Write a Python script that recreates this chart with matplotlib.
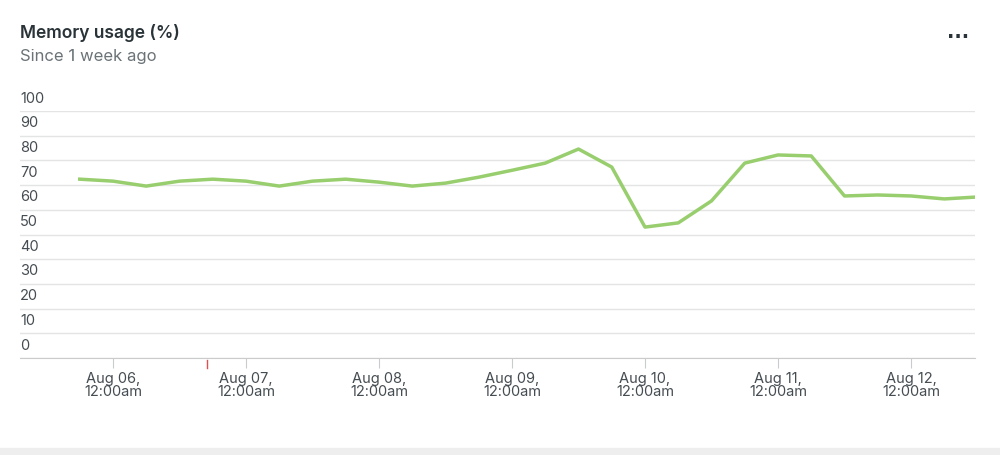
import matplotlib
matplotlib.use("Agg")
import matplotlib.pyplot as plt
import matplotlib.dates as mdates
import numpy as np
import datetime as dt

start = dt.datetime(2023, 8, 5, 18, 0)
times = [start + dt.timedelta(hours=6 * i) for i in range(28)]
memory = [72.4, 71.6, 69.6, 71.6, 72.4, 71.6, 69.6, 71.6, 72.4, 71.2, 69.6, 70.8,
          73.2, 76.0, 78.9, 84.6, 77.3, 53.0, 54.7, 63.6, 78.9, 82.2, 81.8, 65.6,
          66.0, 65.6, 64.4, 65.2]
yticks = [0, 10, 20, 30, 40, 50, 60, 70, 80, 90, 100]
xtick_days = [dt.datetime(2023, 8, d) for d in range(6, 13)]
xtick_labels = [f"Aug {d:02d},\n12:00am" for d in range(6, 13)]

fig = plt.figure(figsize=(10, 4.55), dpi=100)
fig.patch.set_facecolor("white")
ax = fig.add_axes([0.02, 1 - 358 / 455, 0.955, (358 - 111) / 455])
ax.plot(times, memory, color="#98ce6e", lw=2.5, solid_joinstyle="round")

x0 = mdates.date2num(dt.datetime(2023, 8, 6))
ax.set_xlim(x0 - 93 / 133, x0 + 862 / 133)
ax.set_ylim(0, 100)
for v in yticks:
    ax.axhline(v, color="#e3e4e4", lw=1, zorder=0)
    ax.text(0.0, v + 2.2, str(v), transform=ax.get_yaxis_transform(), ha="left",
            va="bottom", fontsize=10.5, color="#464d52", family="Inter")
ax.set_yticks([])
ax.set_xticks(xtick_days)
ax.set_xticklabels(xtick_labels, fontsize=10.5, color="#464d52", family="Inter", linespacing=0.95)
ax.tick_params(axis="x", length=7, color="#c9cbcc", pad=3)
for s in ["top", "right", "left"]:
    ax.spines[s].set_visible(False)
ax.spines["bottom"].set_color("#c9cbcc")
# small red marker
ax.plot([mdates.date2num(dt.datetime(2023, 8, 6, 17, 0))] * 2, [-1, -4], color="#e05050",
        lw=1, clip_on=False)

fig.text(0.02, 1 - 33 / 455, "Memory usage (%)", fontsize=12.5, fontweight="semibold",
         color="#293338", va="center", family="Inter")
fig.text(0.02, 1 - 57 / 455, "Since 1 week ago", fontsize=12, color="#6b7377",
         va="center", family="Inter")
fig.text(0.958, 1 - 38 / 455, "···", fontsize=14, fontweight="bold", color="#293338",
         ha="center", va="center")
fig.add_artist(plt.Line2D([0, 1], [3 / 455, 3 / 455], color="#eeeeee", lw=6))
fig.savefig("out.png", dpi=100, facecolor="white")
